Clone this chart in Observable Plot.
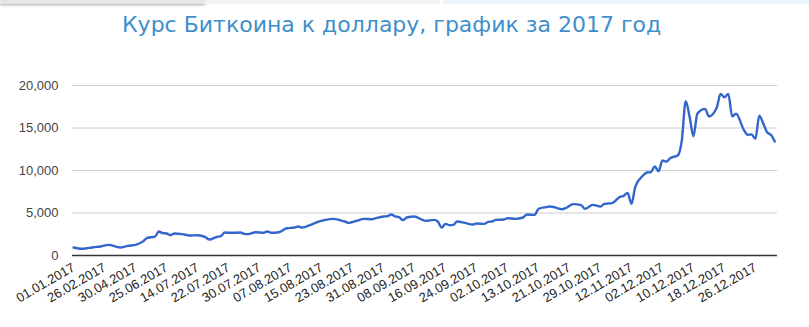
<!DOCTYPE html>
<html>
<head>
<meta charset="utf-8">
<script src="https://cdn.jsdelivr.net/npm/d3@7"></script>
<script src="https://cdn.jsdelivr.net/npm/@observablehq/plot@0.6"></script>
<style>
  html, body { margin: 0; padding: 0; background: #fff; }
  body { width: 809px; height: 327px; position: relative; overflow: hidden; font-family: "Liberation Sans", Arial, sans-serif; }
  .strip { position: absolute; top: 0; height: 4px; }
  #title { height: 40px; position: relative; font-family: "DejaVu Sans", Verdana, sans-serif; font-size: 22px; color: #3e8fcb; }
  #title span { position: absolute; left: 122px; top: 12px; white-space: nowrap; }
</style>
</head>
<body>
<div class="strip" style="left:0;width:205px;background:#e6e6e6;box-shadow:0 1px 3px rgba(0,0,0,0.35);"></div>
<div class="strip" style="left:205px;width:235px;background:#f2f2f2;"></div>
<div class="strip" style="left:443px;width:366px;background:#e8f6fc;"></div>
<div id="title"><span>Курс Биткоина к доллару, график за 2017 год</span></div>
<div id="chart"></div>
<script>
// x-axis category labels (one every 8 points)
const tickLabels = ["01.01.2017","26.02.2017","30.04.2017","25.06.2017","14.07.2017","22.07.2017","30.07.2017","07.08.2017","15.08.2017","23.08.2017","31.08.2017","08.09.2017","16.09.2017","24.09.2017","02.10.2017","13.10.2017","21.10.2017","29.10.2017","12.11.2017","02.12.2017","10.12.2017","18.12.2017","26.12.2017"];
const tickStep = 8;
// point index along the category axis
const pointIndex = [0,2,4,6,7,9,12,14,16,18,19,21,22,23,24,25,26,28,30,32,34,35,37,38,39,41,43,
  44,45,47,49,50,51,53,55,57,58,59,61,63,65,67,69,70,71,73,75,77,78,80,81,82,83,84,85,86,88,90,
  91,93,94,95,96,97,98,99,101,103,104,106,107,108,109,111,112,114,116,117,119,120,122,123,124,126,127,129,131,132,134,136,
  137,139,141,142,143,144,145,147,148,149,150,151,152,153,154,156,157,158,159,160,161,163,164,166,167,168,169,170,171,173,174,175,176,177,178,179,180,181];
// BTC price, USD
const price = [940,790,900,1020,1060,1250,940,1140,1250,1690,2080,2230,2820,2630,2590,2390,2590,2510,2350,2390,2160,1880,2200,2270,2700,2670,2700,
  2550,2510,2740,2670,2820,2670,2740,3210,3290,3410,3290,3570,3960,4190,4310,4120,4000,3840,4080,4310,4270,4390,4590,4630,4820,4590,4510,4160,4470,4590,4190,
  4070,4190,4000,3290,3720,3570,3610,4000,3840,3650,3760,3720,3960,4000,4190,4230,4390,4310,4470,4820,4780,5490,5690,5760,5690,5450,5570,6040,5920,5490,5960,5750,
  6080,6160,6900,7020,7370,6080,8110,9410,9760,9800,10470,9920,11170,11060,11450,11800,13530,18150,16350,14030,16670,17250,16350,17370,19020,18620,19020,16390,16670,14780,14200,14230,13720,16460,15560,14500,14200,13410];
const yTicks = [0, 5000, 10000, 15000, 20000];

const data = pointIndex.map((i, k) => ({i, v: price[k]}));
const tickIdx = tickLabels.map((_, k) => k * tickStep);

const chart = Plot.plot({
  width: 809,
  height: 287,
  marginLeft: 72,
  marginRight: 32,
  marginTop: 45,
  marginBottom: 72,
  style: {fontFamily: "'Liberation Sans', Arial, sans-serif", fontSize: "13px", color: "#222", background: "transparent", overflow: "visible"},
  x: {type: "linear", domain: [-0.3, 181.7]},
  y: {domain: [0, 20000]},
  marks: [
    Plot.ruleY(yTicks.filter(d => d > 0), {stroke: "#cccccc", strokeWidth: 1}),
    Plot.ruleY([0], {stroke: "#333333", strokeWidth: 1.5}),
    Plot.lineY(data, {x: "i", y: "v", stroke: "#3366cc", strokeWidth: 2.4, curve: "monotone-x"}),
    Plot.axisY(yTicks, {tickSize: 0, tickPadding: 14, tickFormat: d3.format(","), label: null, fill: "#444"}),
    Plot.axisX(tickIdx, {tickSize: 0, tickPadding: 11, tickRotate: -30, tickFormat: d => tickLabels[d / tickStep], label: null, fill: "#222"})
  ]
});
document.getElementById("chart").appendChild(chart);
</script>
</body>
</html>
